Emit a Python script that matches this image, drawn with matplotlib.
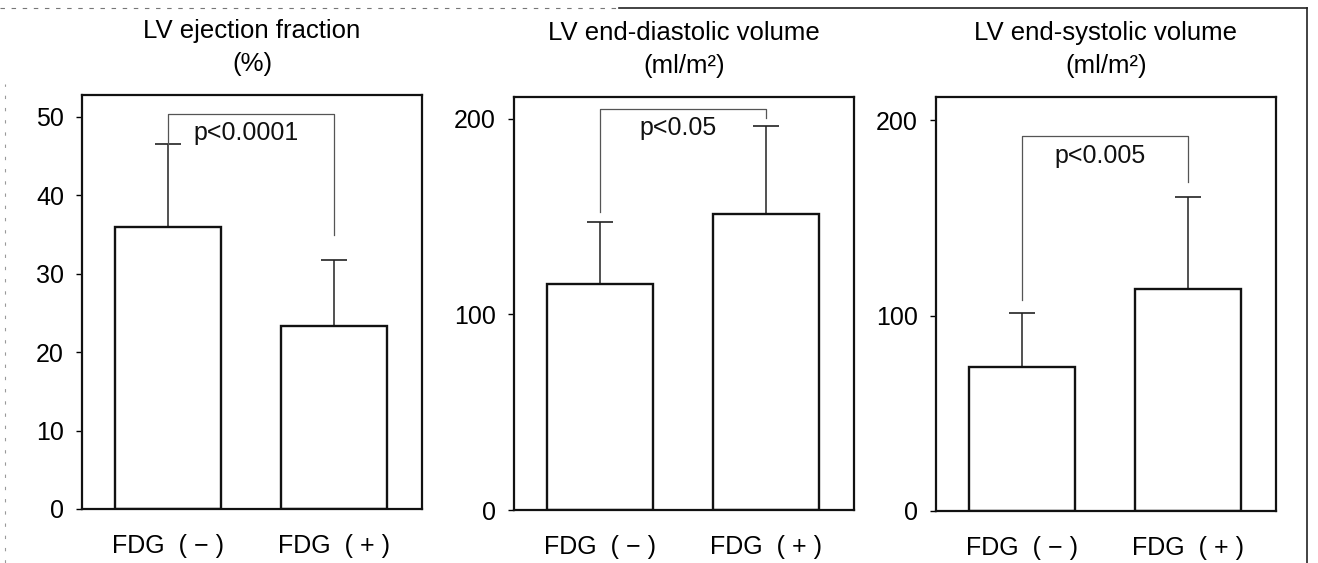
import matplotlib
matplotlib.use('Agg')
import matplotlib.pyplot as plt
from matplotlib.lines import Line2D

# ---- Data ----
groups = ['FDG  ( − )', 'FDG  ( + )']
titles = ['LV ejection fraction\n(%)',
          'LV end-diastolic volume\n(ml/m²)',
          'LV end-systolic volume\n(ml/m²)']

ef_mean = [36.0, 23.3]
ef_sd = [10.6, 8.4]
edv_mean = [115.3, 151.0]
edv_sd = [31.7, 45.4]
esv_mean = [73.8, 113.8]
esv_sd = [27.7, 47.2]

p_labels = ['p<0.0001', 'p<0.05', 'p<0.005']
# bracket: top height, left leg bottom, right leg bottom
bracket_top = [50.4, 205.0, 191.8]
bracket_left = [46.6, 152.0, 108.0]
bracket_right = [34.9, 200.5, 168.7]

y_max = [52.8, 211.0, 212.0]
y_ticks = [[0, 10, 20, 30, 40, 50], [0, 100, 200], [0, 100, 200]]

means = [ef_mean, edv_mean, esv_mean]
sds = [ef_sd, edv_sd, esv_sd]

plt.rcParams['font.family'] = ['Liberation Sans', 'DejaVu Sans']

W, H = 1318, 563
fig = plt.figure(figsize=(W / 100, H / 100), dpi=100)
fig.patch.set_facecolor('white')

# axes boxes in pixels: left, top, right, bottom
boxes = [(82, 95, 422, 509), (514, 97, 854, 510), (936, 97, 1276, 511)]

for k in range(3):
    l, t, r, b = boxes[k]
    ax = fig.add_axes([l / W, (H - b) / H, (r - l) / W, (b - t) / H])
    x = [0, 1]
    ax.bar(x, means[k], width=0.64, color='white', edgecolor='#111111',
           linewidth=1.7, zorder=2)
    ax.errorbar(x, means[k], yerr=[[0, 0], sds[k]], fmt='none',
                ecolor='#222222', elinewidth=1.1, capsize=9.5, capthick=1.2,
                zorder=1)

    # significance bracket
    ax.plot([0, 0, 1, 1],
            [bracket_left[k], bracket_top[k], bracket_top[k], bracket_right[k]],
            color='#555555', linewidth=0.9, zorder=1)
    ax.text(0.47, bracket_top[k] - y_max[k] * 0.018, p_labels[k],
            ha='center', va='top', fontsize=18, color='#111111')

    ax.set_xlim(-0.52, 1.53)
    ax.set_ylim(0, y_max[k])
    ax.set_yticks(y_ticks[k])
    ax.set_xticks(x)
    ax.set_xticklabels(groups)
    ax.tick_params(axis='x', length=0, pad=18, labelsize=18)
    ax.tick_params(axis='y', length=4, width=1, pad=9, labelsize=18,
                   direction='out')
    for s in ax.spines.values():
        s.set_linewidth(1.6)
        s.set_color('#111111')
    ax.set_title(titles[k], fontsize=18.5, linespacing=1.5, pad=17)

# scan border remnants
fig.add_artist(Line2D([0.47, 0.992], [1 - 8 / H, 1 - 8 / H],
                      transform=fig.transFigure, color='#222222', linewidth=1.2))
fig.add_artist(Line2D([0.0, 0.47], [1 - 8 / H, 1 - 8 / H],
                      transform=fig.transFigure, color='#777777', linewidth=0.8,
                      linestyle=(0, (4, 6))))
fig.add_artist(Line2D([0.992, 0.992], [0.0, 1 - 8 / H],
                      transform=fig.transFigure, color='#222222', linewidth=1.2))
fig.add_artist(Line2D([0.004, 0.004], [0.0, 0.85],
                      transform=fig.transFigure, color='#999999', linewidth=0.8,
                      linestyle=(0, (3, 8))))

fig.savefig('out.png', dpi=100)
